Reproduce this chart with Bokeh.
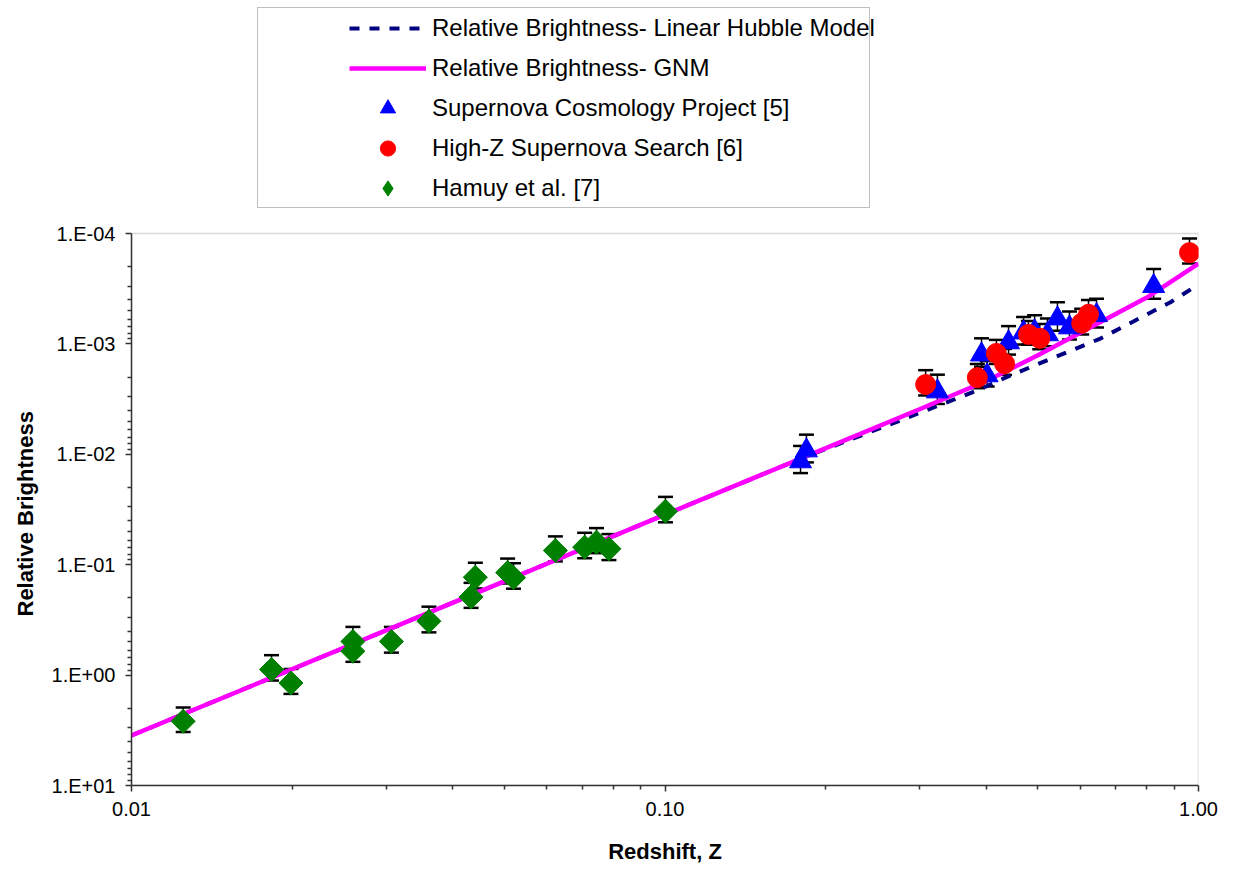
import numpy as np
from bokeh.plotting import figure
from bokeh.models import (ColumnDataSource, Range1d, FixedTicker, CustomJSTickFormatter,
                          Whisker, TeeHead, Legend, LegendItem, BoxAnnotation, Title)
from bokeh.embed import file_html
from bokeh.resources import INLINE

# ---------------- data ----------------
hamuy_z = [0.0125, 0.0183, 0.0199, 0.0260, 0.0260, 0.0307, 0.0361, 0.0433, 0.0441,
           0.0507, 0.0520, 0.0623, 0.0707, 0.0744, 0.0785, 0.1002]
hamuy_b = [2.62, 0.89, 1.18, 0.496, 0.608, 0.496, 0.325, 0.196, 0.130,
           0.118, 0.131, 0.0744, 0.0694, 0.0626, 0.0718, 0.0328]
hamuy_err = [0.65, 0.23, 0.30, 0.13, 0.15, 0.13, 0.085, 0.05, 0.034,
             0.03, 0.034, 0.019, 0.018, 0.016, 0.019, 0.0085]

scp_z = [0.1795, 0.1841, 0.324, 0.392, 0.4016, 0.4405, 0.470, 0.493, 0.521, 0.544, 0.573, 0.644, 0.824]
scp_b = [0.0116, 0.00924, 0.0027, 0.00125, 0.00193, 0.00097, 0.00079, 0.00077, 0.00082,
         0.00059, 0.00071, 0.00055, 0.00030]
scp_err = [0.0032, 0.0026, 0.0008, 0.00036, 0.0005, 0.00028, 0.00022, 0.00022, 0.00023,
           0.00017, 0.0002, 0.00016, 0.00009]

hz_z = [0.308, 0.385, 0.418, 0.433, 0.480, 0.504, 0.604, 0.622, 0.962]
hz_b = [0.00233, 0.00202, 0.00122, 0.00151, 0.00082, 0.00089, 0.00065, 0.00054, 0.000149]
hz_err = [0.0006, 0.0005, 0.0003, 0.0004, 0.0002, 0.00023, 0.00017, 0.00014, 0.000038]

hubble_z = [0.01, 0.03, 0.1, 0.18, 0.276, 0.385, 0.444, 0.520, 0.655, 0.886, 1.0]
hubble_b = [3.52, 0.394, 0.0352, 0.0109, 0.00494, 0.00264, 0.00193, 0.00141, 0.000894, 0.000419, 0.00029]

gnm_z = [0.01, 0.03, 0.1, 0.18, 0.3, 0.4, 0.5, 0.646, 0.8, 1.0]
gnm_b = [3.52, 0.394, 0.0352, 0.0109, 0.00391, 0.00217, 0.00127, 0.000658, 0.00038, 0.000187]

x_major = [0.01, 0.1, 1.0]
y_major = [1e-4, 1e-3, 1e-2, 1e-1, 1.0, 10.0]

legend_labels = ["Relative Brightness- Linear Hubble Model", "Relative Brightness- GNM",
                 "Supernova Cosmology Project [5]", "High-Z Supernova Search [6]",
                 "Hamuy et al. [7]"]
x_title = "Redshift, Z"
y_title = "Relative Brightness"

FONT = "Liberation Sans"

# ---------------- layout geometry ----------------
W, H = 1233, 869
BORDER_L, BORDER_R, BORDER_B = 131, 35, 84
AXIS_TOP_PX = 233            # pixel row of the 1.E-04 line
FRAME_H = H - BORDER_B       # frame reaches the top edge so the legend is not clipped
DECADE_PX = (FRAME_H - AXIS_TOP_PX) / 5.0
y_top_value = 10.0 ** (1 - FRAME_H / DECADE_PX)

# ---------------- figure ----------------
p = figure(width=W, height=H, x_axis_type="log", y_axis_type="log",
           x_range=Range1d(0.01, 1.0), y_range=Range1d(10.0, y_top_value),
           output_backend="svg", toolbar_location=None,
           min_border_left=BORDER_L, min_border_right=BORDER_R,
           min_border_top=0, min_border_bottom=BORDER_B)
p.title.visible = False
p.xgrid.visible = False
p.ygrid.visible = False
p.background_fill_color = "white"
p.border_fill_color = "white"
p.outline_line_color = None

# plot-area border (gray on top/right, axes drawn dark over left/bottom)
p.add_layout(BoxAnnotation(left=x_major[0], right=x_major[-1], top=y_major[0], bottom=y_major[-1],
                           fill_alpha=0, line_color="#808080", line_width=1.5, level="underlay"))

x_minor = [m * 10.0 ** e for e in (-2, -1) for m in range(2, 10)]
y_minor = [m * 10.0 ** e for e in range(-4, 1) for m in range(2, 10)]
p.xaxis.ticker = FixedTicker(ticks=x_major, minor_ticks=x_minor)
p.yaxis.ticker = FixedTicker(ticks=y_major, minor_ticks=y_minor)
p.yaxis.bounds = (y_major[0], y_major[-1])
p.xaxis.formatter = CustomJSTickFormatter(code="return tick.toFixed(2);")
p.yaxis.formatter = CustomJSTickFormatter(code="""
const e = Math.round(Math.log10(tick));
const a = Math.abs(e);
return "1.E" + (e < 0 ? "-" : "+") + (a < 10 ? "0" : "") + a;
""")

for ax in (p.xaxis[0], p.yaxis[0]):
    ax.axis_line_color = "#333333"
    ax.axis_line_width = 1.5
    ax.major_tick_line_color = "#333333"
    ax.major_tick_line_width = 1.5
    ax.major_tick_in = 0
    ax.major_tick_out = 6
    ax.minor_tick_line_color = "#333333"
    ax.minor_tick_line_width = 1.5
    ax.minor_tick_in = 0
    ax.minor_tick_out = 4
    ax.major_label_text_font = FONT
    ax.major_label_text_font_size = "20px"
    ax.major_label_text_color = "black"
    ax.major_label_standoff = 10
    ax.axis_label_text_font = FONT
    ax.axis_label_text_font_size = "22px"
    ax.axis_label_text_font_style = "bold"
    ax.axis_label_text_color = "black"

p.xaxis.axis_label = x_title
p.xaxis.axis_label_standoff = 20

# y title: placed in the left panel, centred on the visible plot area (not the tall frame)
p.add_layout(Title(text=y_title, align="left", offset=169, standoff=21,
                   text_font=FONT, text_font_size="22px", text_font_style="bold",
                   text_color="black"), "left")

# ---------------- lines ----------------
r_hub = p.line(hubble_z, hubble_b, line_color="#000080", line_width=4, line_dash="10 10")
r_gnm = p.line(gnm_z, gnm_b, line_color="#FF00FF", line_width=4.5)

# ---------------- error bars + markers ----------------
def make_source(zs, bs, es):
    return ColumnDataSource(dict(z=zs, b=bs,
                                 lo=[b - e for b, e in zip(bs, es)],
                                 hi=[b + e for b, e in zip(bs, es)]))

def add_whiskers(src):
    p.add_layout(Whisker(base="z", lower="lo", upper="hi", source=src, level="underlay",
                         line_color="black", line_width=1.5,
                         upper_head=TeeHead(size=15, line_color="black", line_width=2.5),
                         lower_head=TeeHead(size=15, line_color="black", line_width=2.5)))

ham_src = make_source(hamuy_z, hamuy_b, hamuy_err)
scp_src = make_source(scp_z, scp_b, scp_err)
hz_src = make_source(hz_z, hz_b, hz_err)
for s in (ham_src, scp_src, hz_src):
    add_whiskers(s)

# diamond glyph used as the legend key (sits fully inside the larger diamonds below)
ham_key = p.scatter("z", "b", source=ham_src, marker="diamond", size=14,
                    fill_color="#008000", line_color="#008000")
r_ham = p.scatter("z", "b", source=ham_src, marker="square", size=17, angle=np.pi / 4,
                  fill_color="#008000", line_color="#008000")
r_scp = p.scatter("z", "b", source=scp_src, marker="triangle", size=22,
                  fill_color="#0000FF", line_color="#0000FF")
r_hz = p.scatter("z", "b", source=hz_src, marker="circle", size=20,
                 fill_color="#FF0000", line_color="#FF0000")

# ---------------- legend (box + items) ----------------
dummy = p.scatter(x=[], y=[], fill_alpha=0, line_alpha=0)
frame_leg = Legend(items=[LegendItem(label=" ", renderers=[dummy])],
                   location=(126, 577), padding=0, margin=0, spacing=0,
                   glyph_width=1, glyph_height=199, label_height=199, label_width=610,
                   label_standoff=0, border_line_color="#808080", border_line_width=1.5,
                   background_fill_color="white", background_fill_alpha=1.0)
p.add_layout(frame_leg)

items = [LegendItem(label=legend_labels[0], renderers=[r_hub]),
         LegendItem(label=legend_labels[1], renderers=[r_gnm]),
         LegendItem(label=legend_labels[2], renderers=[r_scp]),
         LegendItem(label=legend_labels[3], renderers=[r_hz]),
         LegendItem(label=legend_labels[4], renderers=[ham_key])]
leg = Legend(items=items, location=(218, 578), padding=0, margin=0, spacing=2,
             glyph_width=77, glyph_height=38, label_height=38, label_standoff=6,
             border_line_alpha=0, background_fill_alpha=0,
             label_text_font=FONT, label_text_font_size="24px", label_text_color="black")
p.add_layout(leg)

open("out.html", "w").write(file_html(p, INLINE))
